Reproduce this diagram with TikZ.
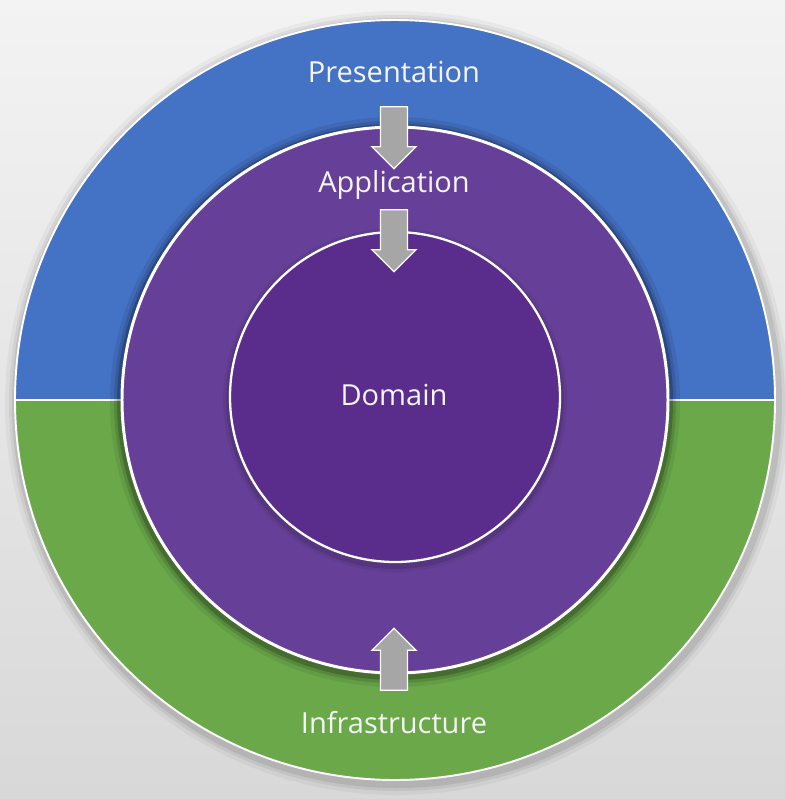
\documentclass[tikz,border=0pt]{standalone}
\usepackage{fontspec}
\setmainfont{Open Sans}
\usetikzlibrary{shapes.arrows}

\definecolor{bglight}{HTML}{F3F3F3}
\definecolor{bgdark}{HTML}{D8D8D8}
\definecolor{presblue}{HTML}{4472C4}
\definecolor{infragreen}{HTML}{6AA84A}
\definecolor{apppurple}{HTML}{664098}
\definecolor{dompurple}{HTML}{5A2C8C}
\definecolor{arrowgray}{HTML}{A6A6A6}

\begin{document}
\begin{tikzpicture}[x=0.02cm, y=-0.02cm,
    layer/.style={text=white!92!gray, font=\fontsize{16.5}{20}\selectfont, anchor=base},
    blockarrow/.style={single arrow, draw=white, fill=arrowgray, line width=0.7pt,
      inner xsep=0pt, inner ysep=0.26cm, minimum height=1.24cm,
      single arrow head extend=0.17cm}]

    % background
    \shade[top color=bglight, bottom color=bgdark] (0, 0) rectangle (785, 799);
    \useasboundingbox (0, 0) rectangle (785, 799);

    % soft shadow of the outer ring
    \foreach \r/\o in {392/0.04, 388/0.06, 385/0.08}
      \fill [black, opacity=\o] (397, 403) circle (\r);

    % outer ring, upper and lower half
    \fill [presblue] (15, 400) arc (180:360:380) -- cycle;
    \fill [infragreen] (15, 400) arc (180:0:380) -- cycle;
    \draw [white, line width=1.1pt] (15, 400) -- (775, 400);
    \draw [white, line width=1.1pt] (395, 400) circle (380);

    % shadow under the middle ring
    \foreach \r/\o in {285/0.07, 281/0.12, 278/0.2}
      \fill [black, opacity=\o] (395, 402) circle (\r);

    % middle ring
    \fill [apppurple] (395, 400) circle (273);
    \draw [white, line width=1.7pt] (395, 400) circle (273);

    % shadow under the inner disc
    \foreach \r/\o in {172/0.06, 169/0.1}
      \fill [black, opacity=\o] (395, 400) circle (\r);

    % inner disc
    \fill [dompurple] (395, 397) circle (165);
    \draw [white, line width=1.3pt] (395, 397) circle (165);

    % labels
    \node[layer](pres) at (394, 82){Presentation};
    \node[layer](app) at (394, 192){Application};
    \node[layer](dom) at (394, 405){Domain};
    \node[layer](infra) at (394, 733){Infrastructure};

    % dependency arrows
    \node[blockarrow, rotate=-90](presarrow) at (394, 131){};
    \node[blockarrow, rotate=-90](apparrow) at (394, 234){};
    \node[blockarrow, rotate=90](infraarrow) at (394, 666){};
\end{tikzpicture}
\end{document}
